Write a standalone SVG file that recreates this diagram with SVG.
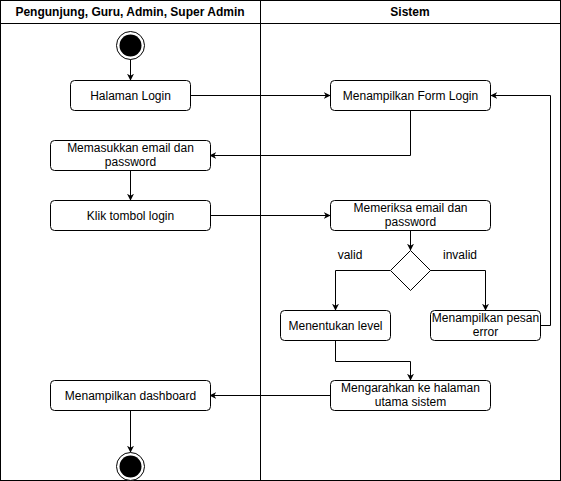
<svg xmlns="http://www.w3.org/2000/svg" width="561" height="481" viewBox="0 0 561 481">
<defs>
<marker id="arr" viewBox="0 0 10 10" refX="9" refY="5" markerWidth="7" markerHeight="7" markerUnits="userSpaceOnUse" orient="auto">
<path d="M0,0 L10,5 L0,10 L3,5 Z" fill="#000"/>
</marker>
<style>
.box{fill:#fff;stroke:#000;stroke-width:1}
.t{font-family:"Liberation Sans",Arial,sans-serif;font-size:12px;fill:#000;text-anchor:middle}
.h{font-family:"Liberation Sans",Arial,sans-serif;font-size:12px;font-weight:bold;fill:#000;text-anchor:middle}
.c{fill:none;stroke:#000;stroke-width:1;marker-end:url(#arr)}
</style>
</defs>
<rect width="561" height="481" fill="#fff"/>
<g id="lanes">
<rect x="0.5" y="0.5" width="560" height="480" fill="none" stroke="#000"/>
<line x1="0.5" y1="23.5" x2="560.5" y2="23.5" stroke="#000"/>
<line x1="260.5" y1="0.5" x2="260.5" y2="480.5" stroke="#000"/>
<text class="h" x="130" y="16">Pengunjung, Guru, Admin, Super Admin</text>
<text class="h" x="410" y="16">Sistem</text>
</g>
<g id="connectors">
<path class="c" d="M130.5,59 V80"/>
<path class="c" d="M190,95.5 H330"/>
<path class="c" d="M410.5,110 V155.5 H210"/>
<path class="c" d="M130.5,170 V200"/>
<path class="c" d="M210,215.5 H330"/>
<path class="c" d="M410.5,230 V250"/>
<path class="c" d="M390,270.5 H335.5 V310"/>
<path class="c" d="M430,270.5 H485.5 V310"/>
<path class="c" d="M540,325.5 H550.5 V95.5 H491"/>
<path class="c" d="M335.5,340 V361.5 H410.5 V380"/>
<path class="c" d="M330,395.5 H210"/>
<path class="c" d="M130.5,410 V452"/>
<text class="t" x="350" y="259">valid</text>
<text class="t" x="460" y="259">invalid</text>
</g>
<g id="start">
<circle cx="130.5" cy="45.5" r="14" fill="#fff" stroke="#000"/>
<circle cx="130.5" cy="45.5" r="11" fill="#000"/>
</g>
<g id="halaman-login">
<rect class="box" x="70.5" y="80.5" width="120" height="30" rx="4"/>
<text class="t" x="130.5" y="100">Halaman Login</text>
</g>
<g id="form-login">
<rect class="box" x="330.5" y="80.5" width="160" height="30" rx="4"/>
<text class="t" x="410.5" y="100">Menampilkan Form Login</text>
</g>
<g id="memasukkan">
<rect class="box" x="50.5" y="140.5" width="160" height="30" rx="4"/>
<text class="t" x="130.5" y="152">Memasukkan email dan</text>
<text class="t" x="130.5" y="166">password</text>
</g>
<g id="klik">
<rect class="box" x="50.5" y="200.5" width="160" height="30" rx="4"/>
<text class="t" x="130.5" y="220">Klik tombol login</text>
</g>
<g id="memeriksa">
<rect class="box" x="330.5" y="200.5" width="160" height="30" rx="4"/>
<text class="t" x="410.5" y="212">Memeriksa email dan</text>
<text class="t" x="410.5" y="226">password</text>
</g>
<g id="decision">
<path class="box" d="M410.5,250.5 L430.5,270.5 L410.5,290.5 L390.5,270.5 Z"/>
</g>
<g id="menentukan">
<rect class="box" x="280.5" y="310.5" width="110" height="30" rx="4"/>
<text class="t" x="335.5" y="330">Menentukan level</text>
</g>
<g id="error">
<rect class="box" x="430.5" y="310.5" width="110" height="30" rx="4"/>
<text class="t" x="485.5" y="322">Menampilkan pesan</text>
<text class="t" x="485.5" y="336">error</text>
</g>
<g id="mengarahkan">
<rect class="box" x="330.5" y="380.5" width="160" height="30" rx="4"/>
<text class="t" x="410.5" y="392">Mengarahkan ke halaman</text>
<text class="t" x="410.5" y="406">utama sistem</text>
</g>
<g id="dashboard">
<rect class="box" x="50.5" y="380.5" width="160" height="30" rx="4"/>
<text class="t" x="130.5" y="400">Menampilkan dashboard</text>
</g>
<g id="end">
<circle cx="130.5" cy="466.5" r="14" fill="#fff" stroke="#000"/>
<circle cx="130.5" cy="466.5" r="11" fill="#000"/>
</g>
</svg>
